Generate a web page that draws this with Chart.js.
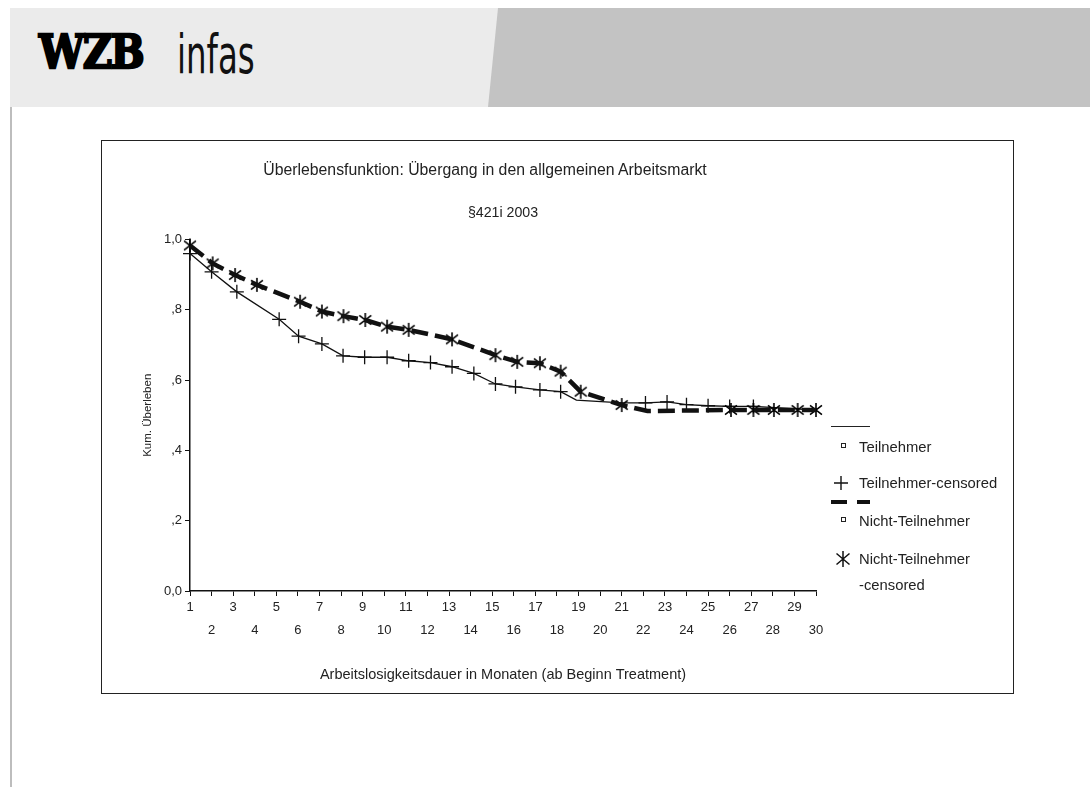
<!DOCTYPE html>
<html>
<head>
<meta charset="utf-8">
<title>Überlebensfunktion</title>
<script src="https://cdn.jsdelivr.net/npm/chart.js@4.4.1/dist/chart.umd.min.js"></script>
<style>
  body { margin: 0; width: 1090px; height: 787px; position: relative; overflow: hidden; background: #fff;
         font-family: "Liberation Sans", Arial, sans-serif; color: #222; }
  #band { position: absolute; left: 10px; top: 8px; width: 1080px; height: 99px; background: #ebebeb; }
  #band2 { position: absolute; left: 10px; top: 8px; width: 1080px; height: 99px; background: #c3c3c3;
           clip-path: polygon(488px 0, 1080px 0, 1080px 99px, 478px 99px); }
  #vline { position: absolute; left: 10px; top: 107px; width: 2px; height: 680px; background: #bdbdbd; }
  #wzb { position: absolute; left: 39px; top: 28px; font-family: "DejaVu Serif", serif; font-weight: bold;
         font-size: 47px; line-height: 1; letter-spacing: -2px; color: #000; -webkit-text-stroke: 2.4px #000;
         transform: scaleX(0.86); transform-origin: left top; }
  #infas { position: absolute; left: 177px; top: 28px; font-family: "DejaVu Sans Condensed", "DejaVu Sans", sans-serif;
           font-weight: 300; font-size: 53px; line-height: 1; color: #111; transform: scaleX(0.68); transform-origin: left top; }
  #box { position: absolute; left: 101px; top: 140px; width: 913px; height: 554px; box-sizing: border-box;
         border: 1px solid #222; }
  #wrap { position: absolute; left: 0; top: 0; width: 911px; height: 552px; }
  .t { position: absolute; white-space: nowrap; transform: translate(-50%, -50%); }
  .lg { position: absolute; font-size: 14.8px; white-space: nowrap; transform: translateY(-50%); }
  .sq { position: absolute; width: 3px; height: 3px; border: 1px solid #222; }
  .mk { position: absolute; }
</style>
</head>
<body>
<div id="band"></div>
<div id="band2"></div>
<div id="vline"></div>
<div id="wzb">WZB</div>
<div id="infas">infas</div>

<div id="box">
  <div id="wrap"><canvas id="kmChart"></canvas></div>
  <div class="t" style="left:383px; top:29px; font-size:15.8px;">Überlebensfunktion: Übergang in den allgemeinen Arbeitsmarkt</div>
  <div class="t" style="left:401px; top:71px; font-size:14.2px;">§421i 2003</div>

  <!-- legend -->
  <div style="position:absolute; left:729px; top:285px; width:39px; height:1px; background:#222;"></div>
  <div class="sq" style="left:739px; top:302px;"></div>
  <div class="lg" style="left:757px; top:306px;">Teilnehmer</div>
  <svg class="mk" style="left:732px; top:335px;" width="14" height="14"><path d="M0 7H14M7 0V14" stroke="#111" stroke-width="1.4"/></svg>
  <div class="lg" style="left:757px; top:342px;">Teilnehmer-censored</div>
  <div style="position:absolute; left:729px; top:359px; width:16px; height:4px; background:#111;"></div>
  <div style="position:absolute; left:755px; top:359px; width:13px; height:4px; background:#111;"></div>
  <div class="sq" style="left:739px; top:376px;"></div>
  <div class="lg" style="left:757px; top:380px;">Nicht-Teilnehmer</div>
  <svg class="mk" style="left:733px; top:410px;" width="16" height="16"><path d="M8 0V16M1.5 2.5L14.5 13.5M14.5 2.5L1.5 13.5" stroke="#111" stroke-width="1.5"/></svg>
  <div class="lg" style="left:757px; top:418px;">Nicht-Teilnehmer</div>
  <div class="lg" style="left:757px; top:444px;">-censored</div>
</div>

<script>
// Monate (x) und kumuliertes Überleben (y)
const teilMonths   = [1, 2, 3.17, 5.13, 6.03, 7.11, 8.09, 9.09, 10.13, 11.13, 12.14, 13.14, 14.15, 15.15, 16.08, 17.21, 18.17, 18.9, 21.0, 22.1, 23.1, 24.0, 25.0, 26.0, 27.1, 30];
const teilSurvival = [0.96, 0.908, 0.851, 0.773, 0.725, 0.703, 0.669, 0.665, 0.665, 0.655, 0.65, 0.638, 0.619, 0.589, 0.581, 0.572, 0.567, 0.543, 0.535, 0.535, 0.538, 0.530, 0.527, 0.525, 0.525, 0.515];

const teilCensMonths   = [1, 2, 3.17, 5.13, 6.03, 7.11, 8.09, 9.09, 10.13, 11.13, 12.14, 13.14, 14.15, 15.15, 16.08, 17.21, 18.17, 22.1, 23.1, 24.0, 25.0, 26.0, 27.1];
const teilCensSurvival = [0.96, 0.908, 0.851, 0.773, 0.725, 0.703, 0.669, 0.665, 0.665, 0.655, 0.65, 0.638, 0.619, 0.589, 0.581, 0.572, 0.567, 0.535, 0.538, 0.530, 0.527, 0.525, 0.525];

const nichtMonths   = [1, 2.05, 3.09, 4.1, 6.1, 7.11, 8.11, 9.12, 10.13, 11.13, 13.14, 15.15, 16.16, 17.21, 18.17, 19.1, 21.0, 22.19, 26.06, 27.1, 28.05, 29.15, 30];
const nichtSurvival = [0.983, 0.932, 0.899, 0.871, 0.823, 0.795, 0.782, 0.771, 0.752, 0.743, 0.716, 0.671, 0.652, 0.648, 0.624, 0.567, 0.529, 0.512, 0.515, 0.515, 0.515, 0.515, 0.515];

const nichtCensMonths   = [1, 2.05, 3.09, 4.1, 6.1, 7.11, 8.11, 9.12, 10.13, 11.13, 13.14, 15.15, 16.16, 17.21, 18.17, 19.1, 21.0, 26.06, 27.1, 28.05, 29.15, 30];
const nichtCensSurvival = [0.983, 0.932, 0.899, 0.871, 0.823, 0.795, 0.782, 0.771, 0.752, 0.743, 0.716, 0.671, 0.652, 0.648, 0.624, 0.567, 0.529, 0.515, 0.515, 0.515, 0.515, 0.515];

const monthLabels = ['1','2','3','4','5','6','7','8','9','10','11','12','13','14','15','16','17','18','19','20','21','22','23','24','25','26','27','28','29','30'];
const yTickLabels = ['0,0', ',2', ',4', ',6', ',8', '1,0'];

function pts(xs, ys) {
    return xs.map((x, i) => ({ x: x, y: ys[i] }));
}

// Sternchen-Marker (6 Strahlen)
function makeStar(size) {
    var c = document.createElement('canvas');
    c.width = size; c.height = size;
    var g = c.getContext('2d');
    var m = size / 2, r = size / 2 - 1;
    g.strokeStyle = '#000';
    g.lineWidth = 1.6;
    g.beginPath();
    g.moveTo(m, m - r); g.lineTo(m, m + r);
    g.moveTo(m - r * 0.85, m - r * 0.65); g.lineTo(m + r * 0.85, m + r * 0.65);
    g.moveTo(m + r * 0.85, m - r * 0.65); g.lineTo(m - r * 0.85, m + r * 0.65);
    g.stroke();
    return c;
}
var star = makeStar(16);

var ctx = document.getElementById('kmChart').getContext('2d');
var kmChart = new Chart(ctx, {
    type: 'line',
    data: {
        datasets: [{
            label: 'Nicht-Teilnehmer',
            data: pts(nichtMonths, nichtSurvival),
            borderColor: '#111',
            borderWidth: 4.5,
            borderDash: [17, 7],
            pointRadius: 0,
            clip: false
        }, {
            label: 'Nicht-Teilnehmer-censored',
            data: pts(nichtCensMonths, nichtCensSurvival),
            showLine: false,
            pointStyle: star,
            pointRadius: 8,
            clip: false
        }, {
            label: 'Teilnehmer',
            data: pts(teilMonths, teilSurvival),
            borderColor: '#111',
            borderWidth: 1.3,
            pointRadius: 0,
            clip: false
        }, {
            label: 'Teilnehmer-censored',
            data: pts(teilCensMonths, teilCensSurvival),
            showLine: false,
            pointStyle: 'cross',
            pointRadius: 7,
            pointBorderColor: '#111',
            pointBorderWidth: 1.3,
            clip: false
        }]
    },
    options: {
        responsive: true,
        maintainAspectRatio: false,
        animation: false,
        events: [],
        layout: {
            padding: { top: 98.5, right: 197, bottom: 0, left: 30 }
        },
        scales: {
            x: {
                type: 'linear',
                min: 1,
                max: 30,
                afterFit: function (scale) { scale.height = 102; },
                border: { display: true, color: '#111', width: 1.5 },
                grid: { drawOnChartArea: false, drawTicks: true, tickLength: 5, color: '#111', lineWidth: 1 },
                ticks: {
                    stepSize: 1,
                    autoSkip: false,
                    maxRotation: 0,
                    color: '#222',
                    padding: 0,
                    font: { family: '"Liberation Sans", Arial, sans-serif', size: 13, lineHeight: 1.78 },
                    callback: function (value) {
                        var lbl = monthLabels[value - 1];
                        return value % 2 === 1 ? [lbl, ''] : ['', lbl];
                    }
                },
                title: {
                    display: true,
                    text: 'Arbeitslosigkeitsdauer in Monaten (ab Beginn Treatment)',
                    color: '#222',
                    font: { family: '"Liberation Sans", Arial, sans-serif', size: 14.5, lineHeight: 1.2 },
                    padding: { top: 0, bottom: 9.3 }
                }
            },
            y: {
                min: 0,
                max: 1,
                afterFit: function (scale) { scale.width = 58; },
                border: { display: true, color: '#111', width: 1.5 },
                grid: { drawOnChartArea: false, drawTicks: true, tickLength: 5, color: '#111', lineWidth: 1 },
                ticks: {
                    stepSize: 0.2,
                    color: '#222',
                    padding: 3,
                    font: { family: '"Liberation Sans", Arial, sans-serif', size: 13 },
                    callback: function (value) { return yTickLabels[Math.round(value * 5)]; }
                },
                title: {
                    display: true,
                    text: 'Kum. Überleben',
                    color: '#222',
                    font: { family: '"Liberation Sans", Arial, sans-serif', size: 11.5, lineHeight: 1.2 },
                    padding: { top: 9.1, bottom: 0 }
                }
            }
        },
        plugins: {
            legend: { display: false },
            tooltip: { enabled: false }
        }
    }
});
</script>
</body>
</html>
